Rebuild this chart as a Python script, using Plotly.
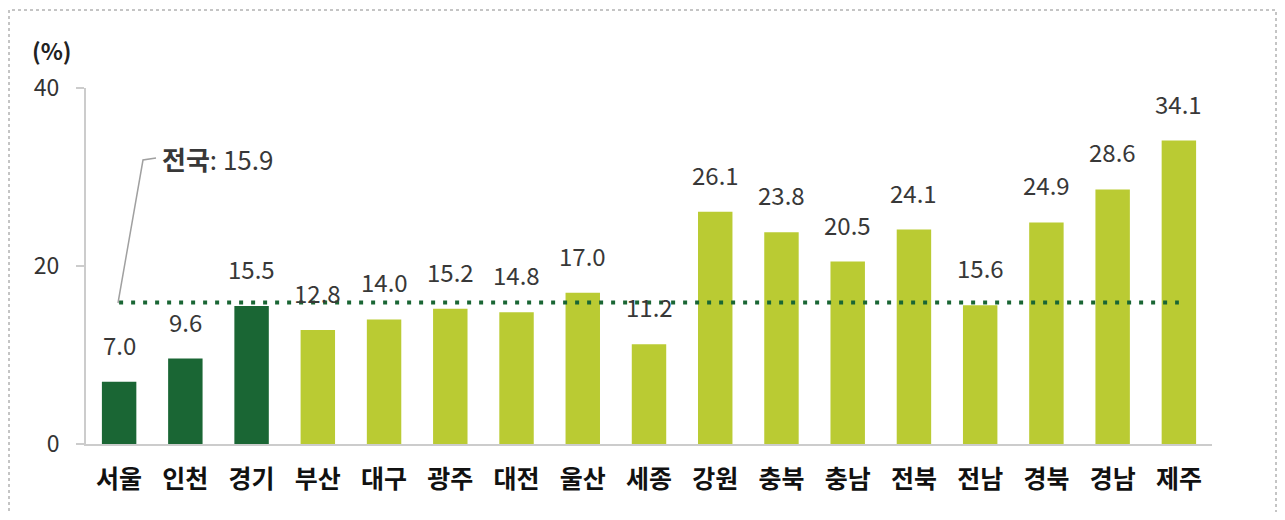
import plotly.graph_objects as go

# data
regions = ['서울', '인천', '경기', '부산', '대구', '광주', '대전', '울산', '세종',
           '강원', '충북', '충남', '전북', '전남', '경북', '경남', '제주']
values = [7.0, 9.6, 15.5, 12.8, 14.0, 15.2, 14.8, 17.0, 11.2,
          26.1, 23.8, 20.5, 24.1, 15.6, 24.9, 28.6, 34.1]
dark_regions = ['서울', '인천', '경기']
national = 15.9
y_ticks = [0, 20, 40]

DARK = '#1a6634'
LIGHT = '#bacb33'
FONT = 'Noto Sans CJK KR'

# page body has an 8px margin on every side; keep the figure inside the window
OFF = 8
W, H = 1285 - 2 * OFF, 520 - 2 * OFF
L, T = 78, 80
R = W - (1212 - OFF)
B = H - (444 - OFF)
pw, ph = W - L - R, H - T - B


def px(x):
    # screen pixel x -> paper
    return (x - OFF - L) / pw


def py(y):
    # screen pixel y -> paper
    return (T + ph - (y - OFF)) / ph


fig = go.Figure()

fig.add_trace(go.Bar(
    x=regions,
    y=values,
    marker=dict(color=[DARK if r in dark_regions else LIGHT for r in regions],
                line=dict(width=0)),
    width=0.52,
    hoverinfo='x+y',
    showlegend=False,
))

# national average dotted line
fig.add_trace(go.Scatter(
    x=[regions[0], regions[-1]],
    y=[national, national],
    mode='lines',
    line=dict(color=DARK, width=4, dash='4px,8px'),
    hoverinfo='skip',
    showlegend=False,
))

# value labels
for r, v in zip(regions, values):
    fig.add_annotation(x=r, y=v, text=f'{v:.1f}', showarrow=False,
                       yanchor='bottom', yshift=18,
                       font=dict(family=FONT, size=24, color='#383838'))

# leader line + label for national average
fig.add_shape(type='path', xref='paper', yref='paper',
              path=f'M {px(118)},{py(303)} L {px(143)},{py(160)} L {px(156)},{py(158)}',
              line=dict(color='#a0a0a0', width=1.5))
fig.add_annotation(x=px(160), y=py(158), xref='paper', yref='paper',
                   text='<b>전국</b>: 15.9', showarrow=False,
                   xanchor='left', yanchor='middle',
                   font=dict(family=FONT, size=26, color='#383838'))

# unit label
fig.add_annotation(x=px(30), y=py(50), xref='paper', yref='paper',
                   text='<b>(%)</b>', showarrow=False,
                   xanchor='left', yanchor='middle',
                   font=dict(family=FONT, size=23, color='#222222'))

# outer dotted frame
fig.add_shape(type='rect', xref='paper', yref='paper',
              x0=px(9), x1=px(OFF + W - 1), y0=py(560), y1=py(10),
              line=dict(color='#8a8a8a', width=1, dash='dot'),
              layer='below')

fig.update_layout(
    width=W, height=H,
    margin=dict(l=L, r=R, t=T, b=B),
    paper_bgcolor='white',
    plot_bgcolor='white',
    bargap=0.48,
    xaxis=dict(
        type='category',
        range=[-0.5, len(regions) - 0.5],
        showline=True, linecolor='#cccccc', linewidth=2,
        ticks='', showgrid=False,
        ticklabelstandoff=12,
        tickfont=dict(family=FONT, size=25, color='#111111', weight='bold'),
    ),
    yaxis=dict(
        range=[0, 40],
        tickvals=y_ticks,
        showline=True, linecolor='#cccccc', linewidth=2,
        ticks='outside', ticklen=8, tickcolor='#cccccc', tickwidth=2,
        showgrid=False, zeroline=False,
        ticklabelstandoff=12,
        tickfont=dict(family=FONT, size=23, color='#333333'),
    ),
)

fig.write_html('out.html')
